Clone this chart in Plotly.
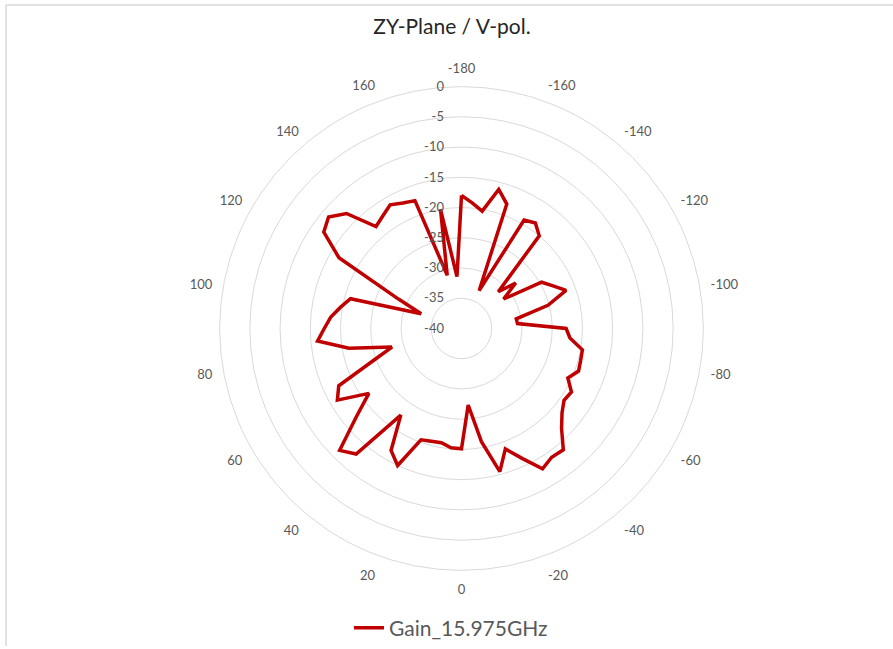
import plotly.graph_objects as go

# Angle categories (deg) and gain (dB)
angles = [-180, -175, -170, -165, -160, -155, -150, -145, -140, -135, -130, -125,
          -120, -115, -110, -105, -100, -95, -90, -85, -80, -75, -70, -65,
          -60, -55, -50, -45, -40, -35, -30, -25, -20, -15, -10, -5,
          0, 5, 10, 15, 20, 25, 30, 35, 40, 45, 50, 55,
          60, 65, 70, 75, 80, 85, 90, 95, 100, 105, 110, 115,
          120, 125, 130, 135, 140, 145, 150, 155, 160, 165, 170, 175]
gain = [-18.0, -19.2, -20.3, -16.2, -18.1, -33.1, -19.3, -18.7, -20.0, -31.4, -28.3, -31.5,
        -24.7, -23.3, -21.6, -25.2, -30.8, -30.7, -22.7, -22.0, -19.7, -19.6, -19.4, -20.6,
        -19.0, -19.3, -18.3, -16.6, -13.8, -14.0, -13.2, -16.3, -18.8, -15.5, -21.0, -27.3,
        -20.1, -20.2, -20.8, -20.7, -20.4, -15.0, -16.7, -22.5, -12.9, -11.5, -17.3, -21.3,
        -16.3, -17.6, -24.5, -28.1, -21.1, -16.1, -17.3, -18.3, -19.7, -21.0, -32.9, -28.5,
        -16.6, -12.2, -11.3, -13.1, -18.0, -17.3, -16.4, -17.1, -17.5, -30.9, -20.0, -31.4]

angle_ticks = list(range(-180, 180, 20))
angle_tick_labels = [str(a) for a in angle_ticks]
radial_ticks = list(range(-40, 1, 5))
radial_tick_labels = [str(r) for r in radial_ticks]
series_name = "Gain_15.975GHz"
title_text = "ZY-Plane / V-pol."

W, H = 893, 649
cx, cy, R = 461.5, 330.0, 243.0
label_gap = "\u2007\u2007"  # keeps radial labels clear of the axis, as in the original

fig = go.Figure()
fig.add_trace(go.Scatterpolar(
    r=gain + [gain[0]],
    theta=angles + [angles[0]],
    mode="lines",
    line=dict(color="#C00000", width=3.5),
    name=series_name,
    showlegend=True,
    hoverinfo="skip",
))

font_family = "Lato, 'Open Sans', sans-serif"
fig.update_layout(
    width=W, height=H,
    margin=dict(l=0, r=0, t=0, b=0),
    paper_bgcolor="white",
    plot_bgcolor="white",
    font=dict(family=font_family, color="#595959"),
    title=dict(text=title_text, x=452 / W, xanchor="center", y=1 - 27 / H,
               yanchor="middle", yref="container",
               font=dict(size=21, color="#262626", family=font_family)),
    showlegend=True,
    legend=dict(orientation="h", x=0.505, xanchor="center", y=18 / H, yanchor="middle",
                font=dict(size=21, color="#595959"), bgcolor="rgba(0,0,0,0)"),
    polar=dict(
        domain=dict(x=[(cx - R) / W, (cx + R) / W], y=[(H - cy - R) / H, (H - cy + R) / H]),
        bgcolor="white",
        angularaxis=dict(
            rotation=-90, direction="clockwise",
            tickmode="array", tickvals=[a % 360 for a in angle_ticks], ticktext=angle_tick_labels,
            showgrid=False, showline=True, linecolor="#d9d9d9", linewidth=1,
            ticks="outside", ticklen=8, tickcolor="rgba(0,0,0,0)",
            tickfont=dict(size=13, color="#595959"),
        ),
        radialaxis=dict(
            range=[-40, 0], tickmode="array", tickvals=radial_ticks,
            ticktext=[t + label_gap for t in radial_tick_labels],
            angle=90, side="counterclockwise", tickangle=90,
            showline=False, ticks="",
            gridcolor="#d9d9d9", gridwidth=1,
            tickfont=dict(size=13, color="#595959"),
        ),
    ),
    shapes=[
        dict(type="line", xref="paper", yref="paper", x0=6 / W, x1=1, y0=1 - 5 / H, y1=1 - 5 / H,
             line=dict(color="#d9d9d9", width=1.5)),
        dict(type="line", xref="paper", yref="paper", x0=6 / W, x1=6 / W, y0=0, y1=1 - 5 / H,
             line=dict(color="#d9d9d9", width=1.5)),
    ],
)

fig.write_html("out.html", config={"displayModeBar": False, "staticPlot": True},
               post_script="document.body.style.margin='0';document.body.style.padding='0';")
